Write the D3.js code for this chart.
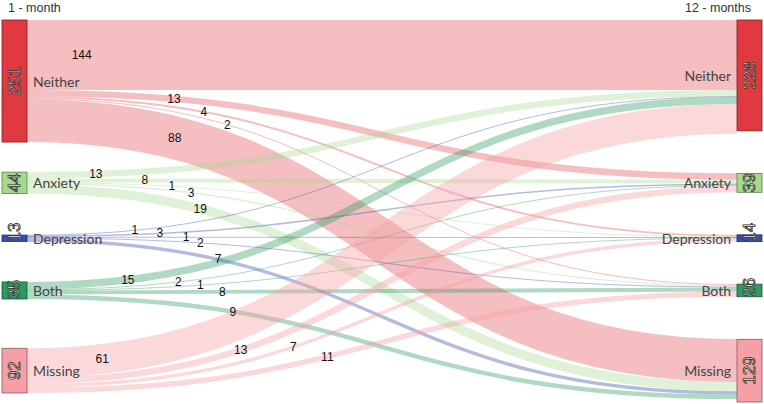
<!DOCTYPE html>
<html><head><meta charset="utf-8">
<script src="https://cdn.jsdelivr.net/npm/d3@7"></script>
<style>
html,body{margin:0;padding:0;background:#fff;}
svg{display:block;}
</style></head><body>
<svg id="chart" width="764" height="404"></svg>
<script>
// ---- data ----
const categories = ["Neither", "Anxiety", "Depression", "Both", "Missing"];
const columnTitles = ["1 - month", "12 - months"];
const leftTotals = [251, 44, 13, 35, 92];     // 1-month counts
const rightTotals = [228, 39, 14, 26, 129];   // 12-month counts
// transitions from each 1-month state to 12-month states (same order as categories)
const fromNeither    = [144, 13, 4, 2, 88];
const fromAnxiety    = [13, 8, 1, 3, 19];
const fromDepression = [1, 3, 1, 2, 7];
const fromBoth       = [15, 2, 1, 8, 9];
const fromMissing    = [61, 13, 7, 11, 0];

// ---- layout / style ----
const flows = [fromNeither, fromAnxiety, fromDepression, fromBoth, fromMissing];
const colors = ["#e0393f", "#a6d98c", "#3a4bb0", "#2d9a5e", "#f6a0a5"];
const linkOpacity = [0.33, 0.36, 0.38, 0.38, 0.4];
// where along each link (fraction of horizontal span) its value label sits
const labelAlong = [
  [0.077, 0.207, 0.249, 0.282, 0.208],
  [0.097, 0.166, 0.204, 0.231, 0.244],
  [0.152, 0.187, 0.224, 0.244, 0.269],
  [0.142, 0.213, 0.244, 0.275, 0.290],
  [0.106, 0.301, 0.375, 0.423, 0.45]
];
const topY = 20, bottomY = 402, pad = 42.5, nodeW = 25;
const xLeft = 2, xRight = 737;

const svg = d3.select("#chart");
const n = categories.length;
const maxTotal = d3.max([d3.sum(leftTotals), d3.sum(rightTotals)]);
const h = d3.scaleLinear().domain([0, maxTotal]).range([0, bottomY - topY - (n - 1) * pad]);

// right column: stacked with equal padding
const right = [];
let acc = topY;
rightTotals.forEach((v, i) => {
  right.push({ y0: acc, y1: acc + h(v), x0: xRight, x1: xRight + nodeW, value: v, i });
  acc += h(v) + pad;
});
// left column: centres aligned with matching right node, then resolve collisions
const left = [];
let prevBottom = topY;
leftTotals.forEach((v, i) => {
  const c = (right[i].y0 + right[i].y1) / 2;
  let y0 = Math.max(c - h(v) / 2, prevBottom);
  left.push({ y0, y1: y0 + h(v), x0: xLeft, x1: xLeft + nodeW, value: v, i });
  prevBottom = y0 + h(v) + 12;
});
const overflow = left[n - 1].y1 - bottomY;
if (overflow > 0) left.forEach(d => { d.y0 -= overflow; d.y1 -= overflow; });

// links
const links = [];
const srcOff = left.map(d => d.y0);
const tgtOff = right.map(d => d.y0);
for (let i = 0; i < n; i++) {
  for (let j = 0; j < n; j++) {
    const v = flows[i][j];
    if (!v) continue;
    links.push({ i, j, value: v, w: h(v), ys: srcOff[i] + h(v) / 2, yt: null });
    srcOff[i] += h(v);
  }
}
for (let j = 0; j < n; j++) {
  links.filter(l => l.j === j).sort((a, b) => a.i - b.i).forEach(l => {
    l.yt = tgtOff[j] + l.w / 2;
    tgtOff[j] += l.w;
  });
}
const xs = xLeft + nodeW, xt = xRight;
const linkGen = d3.linkHorizontal();

const gLinks = svg.append("g").attr("fill", "none");
gLinks.selectAll("path").data(links).join("path")
  .attr("d", l => linkGen({ source: [xs, l.ys], target: [xt, l.yt] }))
  .attr("stroke", l => colors[l.i])
  .attr("stroke-opacity", l => linkOpacity[l.i])
  .attr("stroke-width", l => Math.max(1, l.w));

// point on link at a horizontal fraction
function pointAt(l, f) {
  let lo = 0, hi = 1;
  for (let it = 0; it < 40; it++) {
    const s = (lo + hi) / 2;
    const xf = 1.5 * s - 1.5 * s * s + s * s * s;
    if (xf < f) lo = s; else hi = s;
  }
  const s = (lo + hi) / 2;
  const yf = 3 * s * s - 2 * s * s * s;
  return [xs + (xt - xs) * f, l.ys + (l.yt - l.ys) * yf];
}

svg.append("g").selectAll("text").data(links).join("text")
  .attr("transform", l => { const p = pointAt(l, labelAlong[l.i][l.j]); return `translate(${p[0]},${p[1]})`; })
  .attr("text-anchor", "middle")
  .attr("dominant-baseline", "central")
  .attr("font-family", "Liberation Sans, Arial, sans-serif")
  .attr("font-size", 12)
  .attr("fill", "#111")
  .text(l => l.value);

// nodes
function drawNodes(nodes, side) {
  const g = svg.append("g");
  g.selectAll("rect").data(nodes).join("rect")
    .attr("x", d => d.x0).attr("y", d => d.y0)
    .attr("width", nodeW).attr("height", d => Math.max(1, d.y1 - d.y0))
    .attr("fill", d => colors[d.i])
    .attr("stroke", d => d3.rgb(colors[d.i]).darker(1.6))
    .attr("stroke-width", 0.8);
  // rotated counts
  const t = g.selectAll("text.count").data(nodes).join("text")
    .attr("class", "count")
    .attr("font-family", "Liberation Sans, Arial, sans-serif")
    .attr("font-size", 17)
    .attr("fill", "#fff")
    .attr("stroke", "#2a2a2a")
    .attr("stroke-width", 0.8)
    .attr("dominant-baseline", "central")
    .text(d => d.value);
  t.each(function (d) {
    const len = this.getComputedTextLength();
    const cx = (d.x0 + d.x1) / 2;
    const fits = len < (d.y1 - d.y0) - 2;
    const cy = fits ? (d.y0 + d.y1) / 2 : d.y1;
    d3.select(this).attr("text-anchor", fits ? "middle" : "start")
      .attr("transform", `translate(${cx},${cy}) rotate(-90)`);
  });
  // names
  g.selectAll("text.name").data(nodes).join("text")
    .attr("class", "name")
    .attr("x", d => side === "left" ? d.x1 + 6 : d.x0 - 6)
    .attr("y", d => (d.y0 + d.y1) / 2)
    .attr("text-anchor", side === "left" ? "start" : "end")
    .attr("dominant-baseline", "central")
    .attr("font-family", "Lato, sans-serif")
    .attr("font-size", 14)
    .attr("fill", "#444")
    .text(d => categories[d.i]);
}
drawNodes(left, "left");
drawNodes(right, "right");

// column titles
svg.append("text").attr("x", 8).attr("y", 12)
  .attr("font-family", "Liberation Sans, Arial, sans-serif").attr("font-size", 12.5)
  .attr("fill", "#333").text(columnTitles[0]);
svg.append("text").attr("x", 751).attr("y", 12).attr("text-anchor", "end")
  .attr("font-family", "Liberation Sans, Arial, sans-serif").attr("font-size", 12.5)
  .attr("fill", "#333").text(columnTitles[1]);
</script>
</body></html>
